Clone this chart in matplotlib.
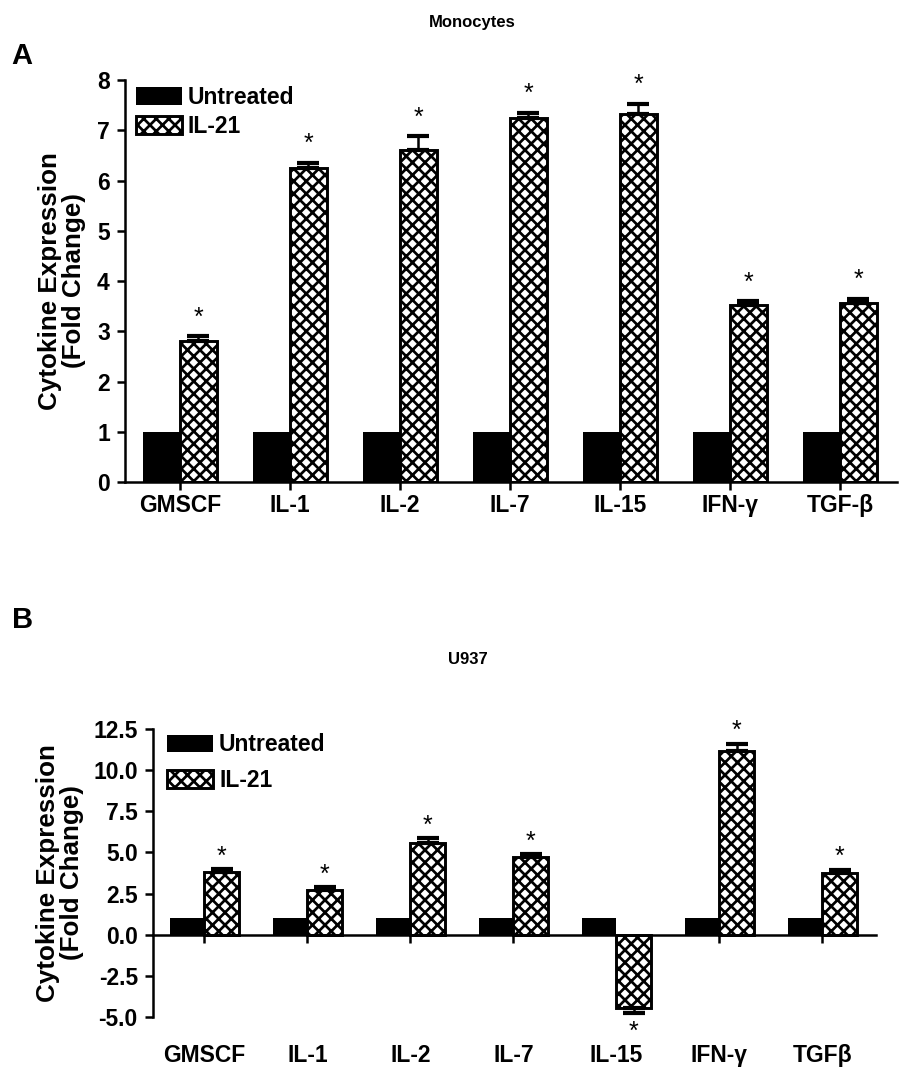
import matplotlib.pyplot as plt
import numpy as np

plt.rcParams['font.family'] = ['Liberation Sans', 'DejaVu Sans']
plt.rcParams['font.weight'] = 'bold'
plt.rcParams['hatch.linewidth'] = 1.3

# Panel A: monocytes
cytokines_a = ['GMSCF', 'IL-1', 'IL-2', 'IL-7', 'IL-15', 'IFN-γ', 'TGF-β']
untreated_a = [1, 1, 1, 1, 1, 1, 1]
il21_a = [2.8, 6.25, 6.6, 7.25, 7.33, 3.53, 3.57]
il21_err_a = [0.1, 0.1, 0.28, 0.1, 0.2, 0.07, 0.08]

# Panel B: U937
cytokines_b = ['GMSCF', 'IL-1', 'IL-2', 'IL-7', 'IL-15', 'IFN-γ', 'TGFβ']
untreated_b = [1, 1, 1, 1, 1, 1, 1]
il21_b = [3.8, 2.7, 5.6, 4.7, -4.45, 11.15, 3.75]
il21_err_b = [0.2, 0.2, 0.25, 0.2, 0.3, 0.45, 0.2]

FS = 11
W = 0.335


def draw_panel(ax, untreated, il21, err, star_pts):
    x = np.arange(len(il21))
    ax.bar(x, untreated, width=-W, align='edge', color='black', label='Untreated')
    ax.bar(x, il21, width=W, align='edge', color='white', edgecolor='black',
           hatch='xxxx', linewidth=1.4, label='IL-21')
    lower = [e if v < 0 else 0 for v, e in zip(il21, err)]
    upper = [0 if v < 0 else e for v, e in zip(il21, err)]
    ax.errorbar(x + W / 2, il21, yerr=[lower, upper], fmt='none', ecolor='black',
                elinewidth=1.2, capsize=5.5, capthick=2)
    for xi, v, e in zip(x, il21, err):
        if v >= 0:
            ax.annotate('*', (xi + W / 2, v + e), xytext=(0, star_pts),
                        textcoords='offset points', ha='center', va='center',
                        fontsize=12, fontweight='normal')
        else:
            ax.annotate('*', (xi + W / 2, v - e), xytext=(0, -star_pts - 3),
                        textcoords='offset points', ha='center', va='center',
                        fontsize=12, fontweight='normal')
    ax.set_xlim(-0.5, len(il21) - 0.48)
    for s in ['top', 'right']:
        ax.spines[s].set_visible(False)
    for s in ['left', 'bottom']:
        ax.spines[s].set_linewidth(1.2)
    ax.tick_params(direction='out', length=3.8, width=1.2, labelsize=FS)
    ax.set_xticks(x)
    ax.set_ylabel('Cytokine Expression\n(Fold Change)', fontsize=12.5,
                  fontweight='bold', linespacing=1.0)


fig = plt.figure(figsize=(6, 7.26), dpi=150)

# Panel A
ax1 = fig.add_axes([0.1389, 0.5574, 0.8578, 0.3691])
draw_panel(ax1, untreated_a, il21_a, il21_err_a, 9)
ax1.set_ylim(0, 8)
ax1.set_yticks(range(0, 9))
ax1.set_xticklabels(cytokines_a)
ax1.tick_params(axis='x', pad=2)
ax1.yaxis.set_label_coords(-0.05, 0.5)
ax1.legend(loc='upper left', bbox_to_anchor=(0.014, 0.985), frameon=False,
           fontsize=FS, handlelength=2.0, handleheight=0.8, handletextpad=0.25,
           labelspacing=0.25, borderpad=0, borderaxespad=0)

# Panel B
ax2 = fig.add_axes([0.17, 0.0661, 0.8033, 0.2645])
draw_panel(ax2, untreated_b, il21_b, il21_err_b, 6)
ax2.set_ylim(-5, 12.5)
ax2.set_yticks(np.arange(-5, 12.6, 2.5))
ax2.set_yticklabels([f'{v:.1f}' for v in np.arange(-5, 12.6, 2.5)])
ax2.spines['bottom'].set_position(('data', 0))
ax2.tick_params(axis='x', labelbottom=False)
trans = ax2.get_xaxis_transform()
for xi, lab in enumerate(cytokines_b):
    ax2.text(xi, -0.135, lab, transform=trans, ha='center', va='center', fontsize=FS)
ax2.yaxis.set_label_coords(-0.095, 0.5)
ax2.legend(loc='upper left', bbox_to_anchor=(0.02, 0.985), frameon=False,
           fontsize=FS, handlelength=2.0, handleheight=0.8, handletextpad=0.25,
           labelspacing=0.55, borderpad=0, borderaxespad=0)

fig.text(0.525, 1 - 22 / 1089, 'Monocytes', ha='center', va='center', fontsize=8)
fig.text(0.52, 1 - 660 / 1089, 'U937', ha='center', va='center', fontsize=8)
fig.text(22 / 900, 1 - 56 / 1089, 'A', ha='center', va='center', fontsize=14)
fig.text(23 / 900, 1 - 620 / 1089, 'B', ha='center', va='center', fontsize=14)

fig.savefig('out.png', dpi=150)
